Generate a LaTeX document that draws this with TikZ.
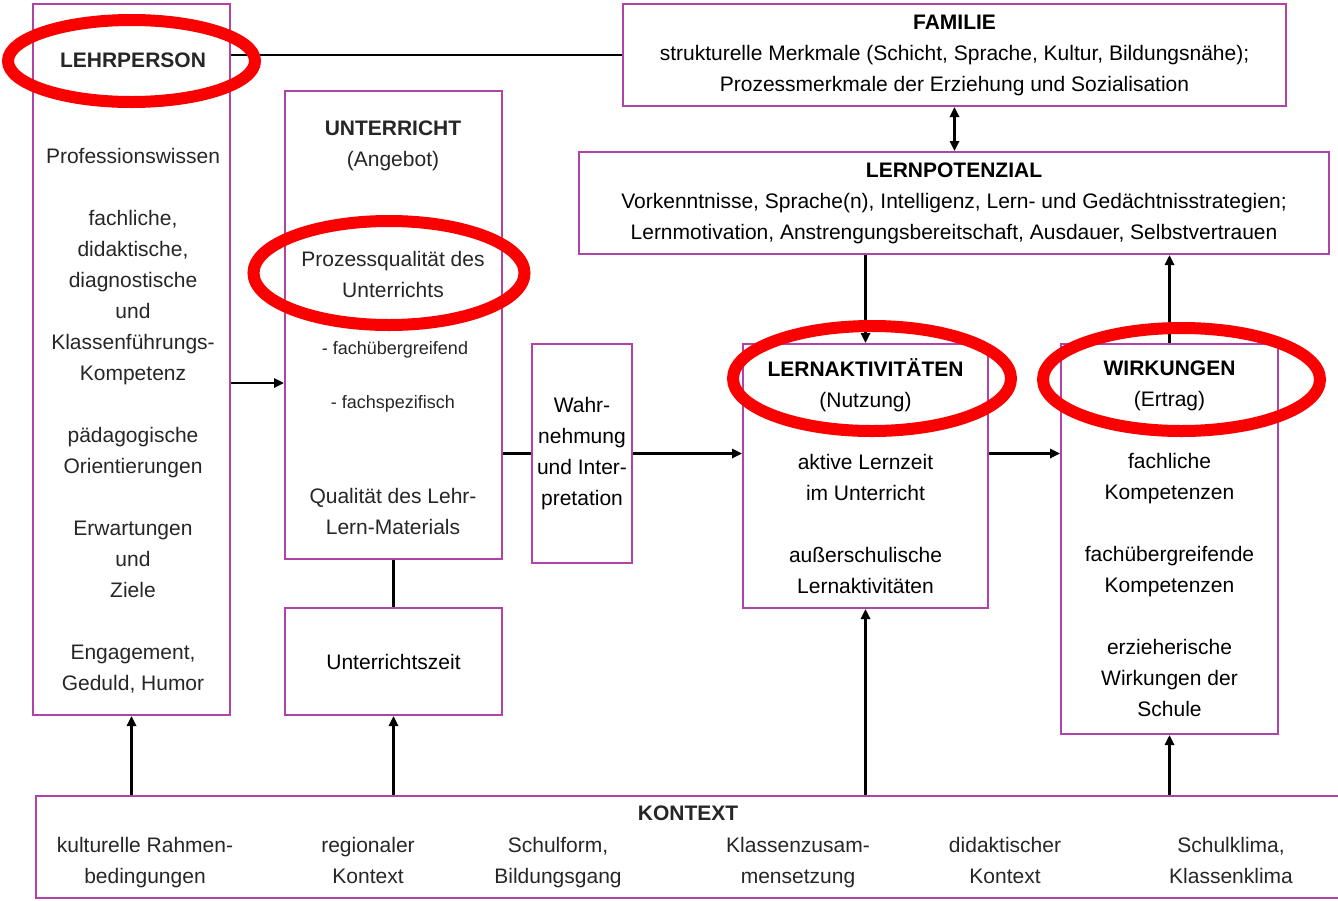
\documentclass[tikz,border=0pt]{standalone}
\usepackage{fontspec}
\setmainfont{Liberation Sans}
\setsansfont{Liberation Sans}
\usetikzlibrary{arrows.meta,shapes.geometric}
\definecolor{boxline}{RGB}{176,66,168}
\definecolor{hired}{RGB}{250,0,0}

\begin{document}
\begin{tikzpicture}[
  x=0.5pt, y=-0.5pt,
  font=\sffamily\fontsize{10.5}{15.5}\selectfont,
  box/.style={draw=boxline, line width=1pt, anchor=north west, align=center, inner sep=0pt},
  txt/.style={align=center, inner sep=0pt, text=black!85},
  small/.style={txt, font=\sffamily\fontsize{9}{13}\selectfont},
  ctx/.style={txt, anchor=north},
  arrow/.style={-{Triangle[length=5pt,width=4.6pt]}, line width=1.3pt},
  link/.style={line width=1.3pt},
  hilite/.style={ellipse, draw=hired, line width=6pt, inner sep=0pt}
]
  \useasboundingbox (0,0) rectangle (1338,900);

  \node[box, minimum width=98.5pt, minimum height=355.5pt] (lehr) at (32,3) {};
  \node[box, minimum width=108.5pt, minimum height=234pt] (unt) at (284,90) {};
  \node[box, minimum width=108.5pt, minimum height=53.5pt] (zeit) at (284,607) {Unterrichtszeit};
  \node[box, minimum width=50pt, minimum height=109.5pt] (wahr) at (531,343) {Wahr-\\nehmung\\und Inter-\\pretation};
  \node[box, minimum width=331.5pt, minimum height=51pt] (fam) at (622,3)
    {\textbf{FAMILIE}\\strukturelle Merkmale (Schicht, Sprache, Kultur, Bildungsnähe);\\Prozessmerkmale der Erziehung und Sozialisation};
  \node[box, minimum width=375pt, minimum height=51pt] (pot) at (578,151)
    {\textbf{LERNPOTENZIAL}\\Vorkenntnisse, Sprache(n), Intelligenz, Lern- und Gedächtnisstrategien;\\Lernmotivation, Anstrengungsbereitschaft, Ausdauer, Selbstvertrauen};
  \node[box, minimum width=122.5pt, minimum height=132pt] (akt) at (742,343)
    {\textbf{LERNAKTIVITÄTEN}\\(Nutzung)\\[15.5pt]aktive Lernzeit\\im Unterricht\\[15.5pt]außerschulische\\Lernaktivitäten};
  \node[box, minimum width=108.5pt, minimum height=195pt] (wirk) at (1060,343)
    {\textbf{WIRKUNGEN}\\(Ertrag)\\[15.5pt]fachliche\\Kompetenzen\\[15.5pt]fachübergreifende\\Kompetenzen\\[15.5pt]erzieherische\\Wirkungen der\\Schule};
  \node[box, minimum width=651.5pt, minimum height=51pt] (kon) at (35,795) {};

  \node[txt] (lehrtitle) at (133,60) {\textbf{LEHRPERSON}};
  \node[txt] (lehrbody) at (133,421)
    {Professionswissen\\[15.5pt]fachliche,\\didaktische,\\diagnostische\\und\\Klassenführungs-\\Kompetenz\\[15.5pt]pädagogische\\Orientierungen\\[15.5pt]Erwartungen\\und\\Ziele\\[15.5pt]Engagement,\\Geduld, Humor};

  \node[txt] (unttitle) at (393,146) {\textbf{UNTERRICHT}\\(Angebot)};
  \node[txt] (prozess) at (393,274) {Prozessqualität des\\Unterrichts};
  \node[small] (uebergr) at (395,350) {- fachübergreifend};
  \node[small] (spezif) at (393,404) {- fachspezifisch};
  \node[txt] (material) at (393,511) {Qualität des Lehr-\\Lern-Materials};

  \node[txt] (kontitle) at (688,813) {\textbf{KONTEXT}};
  \node[ctx] (kon1) at (145,830) {\strut kulturelle Rahmen-\\bedingungen};
  \node[ctx] (kon2) at (368,830) {\strut regionaler\\Kontext};
  \node[ctx] (kon3) at (558,830) {\strut Schulform,\\Bildungsgang};
  \node[ctx] (kon4) at (798,830) {\strut Klassenzusam-\\mensetzung};
  \node[ctx] (kon5) at (1005,830) {\strut didaktischer\\Kontext};
  \node[ctx] (kon6) at (1231,830) {\strut Schulklima,\\Klassenklima};

  \draw[link] (lehr.east |- fam.west) -- (fam.west);
  \draw[arrow] (lehr.east |- 0,383) -- (unt.west |- 0,383);
  \draw[link] (unt.east |- wahr.west) -- (wahr.west);
  \draw[arrow] (wahr.east) -- (akt.west |- wahr.east);
  \draw[link] (unt.south) -- (zeit.north);
  \draw[{Triangle[length=5pt,width=4.6pt]}-{Triangle[length=5pt,width=4.6pt]}, line width=1.3pt]
    (fam.south) -- (fam.south |- pot.north);
  \draw[arrow] (akt.north |- pot.south) -- (akt.north);
  \draw[arrow] (wirk.north) -- (wirk.north |- pot.south);
  \draw[arrow] (akt.east |- wahr.east) -- (wirk.west |- wahr.east);

  \draw[arrow] (lehr.south |- kon.north) -- (lehr.south);
  \draw[arrow] (zeit.south |- kon.north) -- (zeit.south);
  \draw[arrow] (akt.south |- kon.north) -- (akt.south);
  \draw[arrow] (wirk.south |- kon.north) -- (wirk.south);

  \node[hilite, minimum width=123.5pt, minimum height=41pt] (hlLehr) at (131.5,61) {};
  \node[hilite, minimum width=135.5pt, minimum height=52pt] (hlProz) at (389,273) {};
  \node[hilite, minimum width=139pt, minimum height=52.5pt] (hlAkt) at (872,378.5) {};
  \node[hilite, minimum width=138.5pt, minimum height=51.5pt] (hlWirk) at (1181.5,379.5) {};
\end{tikzpicture}
\end{document}
